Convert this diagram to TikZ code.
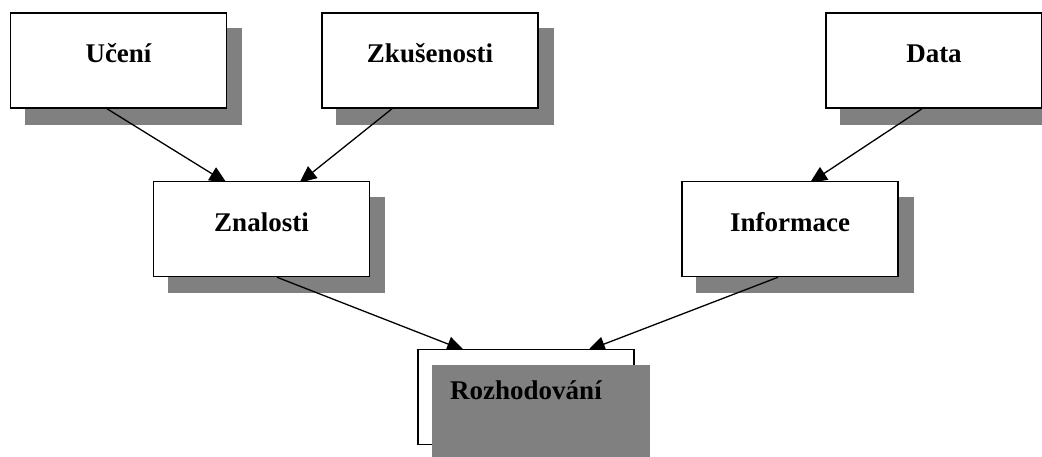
\documentclass[tikz,border=0pt]{standalone}
\usepackage{fontspec}
\setmainfont{Liberation Serif}
\usetikzlibrary{arrows.meta,calc}
\pgfdeclarelayer{shadow}
\pgfdeclarelayer{edges}
\pgfdeclarelayer{front}
\pgfsetlayers{shadow,edges,main,front}
\definecolor{shadowgray}{RGB}{128,128,128}
\tikzset{
  box/.style={draw=black, line width=1.5pt, fill=white, minimum width=216pt,
    inner xsep=0pt, inner ysep=0pt, text height=50pt, text depth=45pt,
    font=\bfseries\fontsize{27}{30}\selectfont},
  boxtext/.style={inner xsep=0pt, inner ysep=0pt, text height=50pt, text depth=45pt,
    font=\bfseries\fontsize{27}{30}\selectfont},
  conn/.style={line width=1.3pt, -{Triangle[length=17pt,width=15pt]}},
  shadowfill/.style={fill=shadowgray}
}
\begin{document}
\begin{tikzpicture}[x=1pt,y=-1pt]
\useasboundingbox (0,0) rectangle (1042,457);
\node[box] (uc) at (118.5,60.5) {Učení};
\node[box] (zk) at (430,60.5) {Zkušenosti};
\node[box] (da) at (934,60.5) {Data};
\node[box] (zn) at (261.5,229) {Znalosti};
\node[box] (in) at (790,229) {Informace};
\node[box] (ro) at (526,397) {};
\begin{pgfonlayer}{shadow}
  \foreach \n in {uc,zk,da,zn,in}{
    \fill[shadowfill] ($(\n.north west)+(15,16)$) rectangle ($(\n.south east)+(15,16)$);
  }
\end{pgfonlayer}
\begin{pgfonlayer}{front}
  \fill[shadowfill] ($(ro.north west)+(15,16)$) rectangle ($(ro.south east)+(15,16)$);
  \node[boxtext] (rotext) at (ro.center) {Rozhodování};
\end{pgfonlayer}
\begin{pgfonlayer}{edges}
  \draw[conn] ($(uc.south)+(-11.5,0)$) -- ($(zn.north)+(-35,2)$);
  \draw[conn] ($(zk.south)+(-38,0)$) -- ($(zn.north)+(38,2)$);
  \draw[conn] ($(da.south)+(-12,0)$) -- ($(in.north)+(20,2)$);
  \draw[conn] ($(zn.south)+(15.5,0)$) -- ($(ro.north)+(-62,1.5)$);
  \draw[conn] ($(in.south)+(-12,0)$) -- ($(ro.north)+(62,1.5)$);
\end{pgfonlayer}
\end{tikzpicture}
\end{document}
